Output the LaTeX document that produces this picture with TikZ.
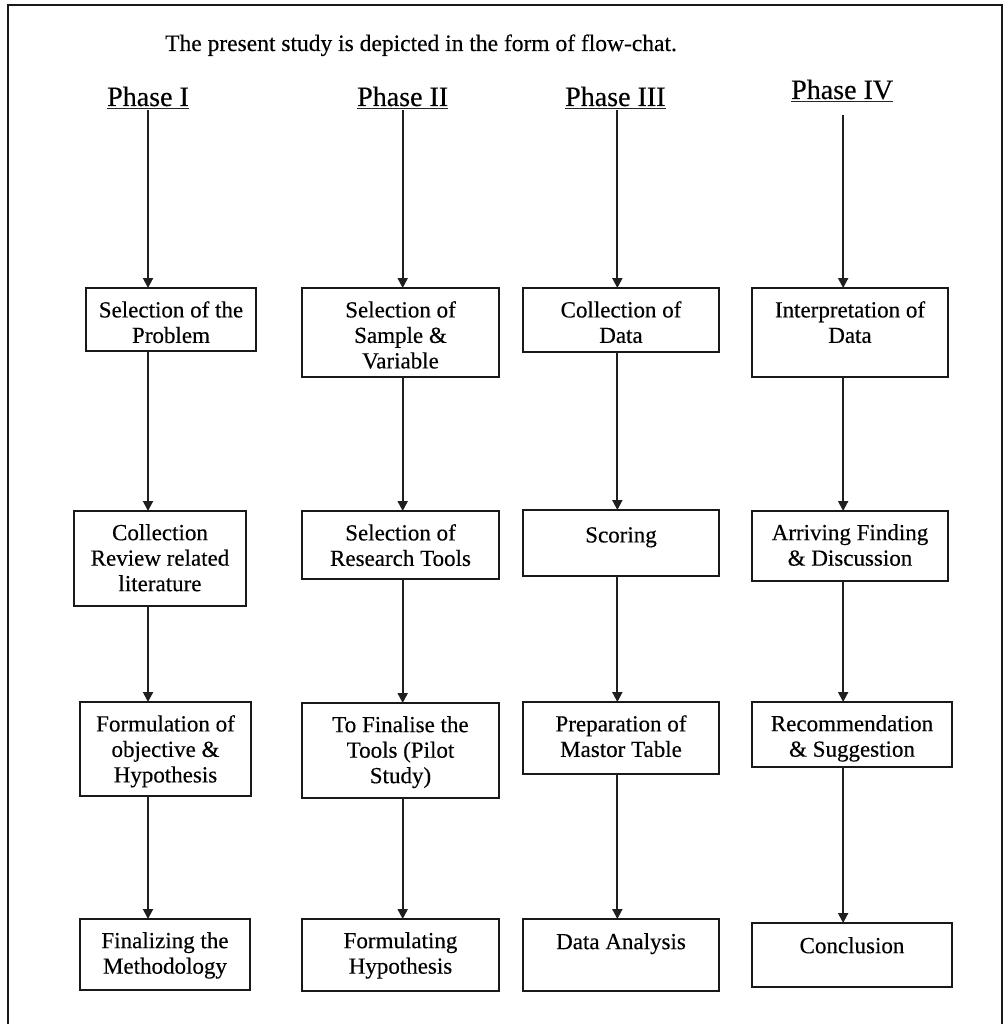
\documentclass[tikz,border=0pt]{standalone}
\usepackage{fontspec}
\setmainfont[FakeBold=0.35]{Liberation Serif}
\usetikzlibrary{arrows.meta}
\begin{document}
\begin{tikzpicture}[x=1pt,y=-1pt,
  box/.style={draw=black!90, line width=2pt, inner sep=0pt, outer sep=0pt, anchor=north west},
  txt/.style={inner sep=0pt, align=center, anchor=north, font=\fontsize{23}{25.5}\selectfont},
  arr/.style={draw=black!88, line width=2pt, -{Triangle[width=10pt,length=10pt]}},
  phase/.style={inner sep=0pt, anchor=base west, font=\fontsize{28}{30}\selectfont},
  uline/.style={draw=black!85, line width=1.5pt},
  frame/.style={draw=black!90, line width=2.2pt}]
\useasboundingbox (0,0) rectangle (1006,1024);
% frame
\draw[frame] (8,1024) -- (8,5) -- (1002,5) -- (1002,1024);
% title
\node[anchor=base west, inner sep=0pt, font=\fontsize{23.5}{26}\selectfont] (title) at (165,51) {The present study is depicted in the form of flow-chat.};
% phase labels
\node[phase] (p1) at (107,106) {Phase I};
\node[phase] (p2) at (357,106) {Phase II};
\node[phase] (p3) at (565,106) {Phase III};
\node[phase] (p4) at (791,99) {Phase IV};
\foreach \p in {p1,p2,p3,p4}{
  \draw[uline] ([yshift=-2.5pt]\p.base west) -- ([yshift=-2.5pt]\p.base east);
}
% boxes column 1
\node[box, minimum width=170pt, minimum height=63pt] (b11) at (86,288) {};
\node[box, minimum width=172pt, minimum height=95pt] (b21) at (74,511) {};
\node[box, minimum width=171pt, minimum height=94pt] (b31) at (80,702) {};
\node[box, minimum width=170pt, minimum height=71pt] (b41) at (80,919) {};
% column 2
\node[box, minimum width=197pt, minimum height=89pt] (b12) at (302,288) {};
\node[box, minimum width=197pt, minimum height=68pt] (b22) at (302,511) {};
\node[box, minimum width=197pt, minimum height=95pt] (b32) at (302,703) {};
\node[box, minimum width=197pt, minimum height=72pt] (b42) at (302,919) {};
% column 3
\node[box, minimum width=196pt, minimum height=64pt] (b13) at (523,288) {};
\node[box, minimum width=196pt, minimum height=66pt] (b23) at (523,510) {};
\node[box, minimum width=196pt, minimum height=72pt] (b33) at (523,702) {};
\node[box, minimum width=196pt, minimum height=72pt] (b43) at (523,919) {};
% column 4
\node[box, minimum width=196pt, minimum height=89pt] (b14) at (752,288) {};
\node[box, minimum width=196pt, minimum height=70pt] (b24) at (752,511) {};
\node[box, minimum width=200pt, minimum height=65pt] (b34) at (752,702) {};
\node[box, minimum width=200pt, minimum height=64pt] (b44) at (752,923) {};
% texts
\node[txt] (t11) at ([yshift=-13pt]b11.north) {Selection of the\\Problem};
\node[txt] (t21) at ([yshift=-13pt]b21.north) {Collection\\Review related\\literature};
\node[txt] (t31) at ([yshift=-13pt]b31.north) {Formulation of\\objective \&\\Hypothesis};
\node[txt] (t41) at ([yshift=-13pt]b41.north) {Finalizing the\\Methodology};
\node[txt] (t12) at ([yshift=-13pt]b12.north) {Selection of\\Sample \&\\Variable};
\node[txt] (t22) at ([yshift=-13pt]b22.north) {Selection of\\Research Tools};
\node[txt] (t32) at ([yshift=-13pt]b32.north) {To Finalise the\\Tools (Pilot\\Study)};
\node[txt] (t42) at ([yshift=-13pt]b42.north) {Formulating\\Hypothesis};
\node[txt] (t13) at ([yshift=-13pt]b13.north) {Collection of\\Data};
\node[txt] (t23) at ([yshift=-17pt]b23.north) {Scoring};
\node[txt] (t33) at ([yshift=-13pt]b33.north) {Preparation of\\Mastor Table};
\node[txt] (t43) at ([yshift=-14pt]b43.north) {Data Analysis};
\node[txt] (t14) at ([yshift=-13pt]b14.north) {Interpretation of\\Data};
\node[txt] (t24) at ([yshift=-13pt]b24.north) {Arriving Finding\\\& Discussion};
\node[txt] (t34) at ([yshift=-13pt]b34.north) {Recommendation\\\& Suggestion};
\node[txt] (t44) at ([yshift=-14pt]b44.north) {Conclusion};
% arrows from phase labels
\draw[arr] ([yshift=-4pt]p1.base) -- (p1.base |- b11.north);
\draw[arr] ([yshift=-4pt]p2.base) -- (p2.base |- b12.north);
\draw[arr] ([xshift=2pt,yshift=-4pt]p3.base) -- ([xshift=2pt]p3.base |- b13.north);
\draw[arr] ([xshift=1pt,yshift=-16pt]p4.base) -- ([xshift=1pt]p4.base |- b14.north);
% column arrows
\foreach \c/\p/\dx in {1/p1/0pt,2/p2/0pt,3/p3/2pt,4/p4/1pt}{
  \draw[arr] ([xshift=\dx]\p.base |- b1\c.south) -- ([xshift=\dx]\p.base |- b2\c.north);
  \draw[arr] ([xshift=\dx]\p.base |- b2\c.south) -- ([xshift=\dx]\p.base |- b3\c.north);
  \draw[arr] ([xshift=\dx]\p.base |- b3\c.south) -- ([xshift=\dx]\p.base |- b4\c.north);
}
\end{tikzpicture}
\end{document}
